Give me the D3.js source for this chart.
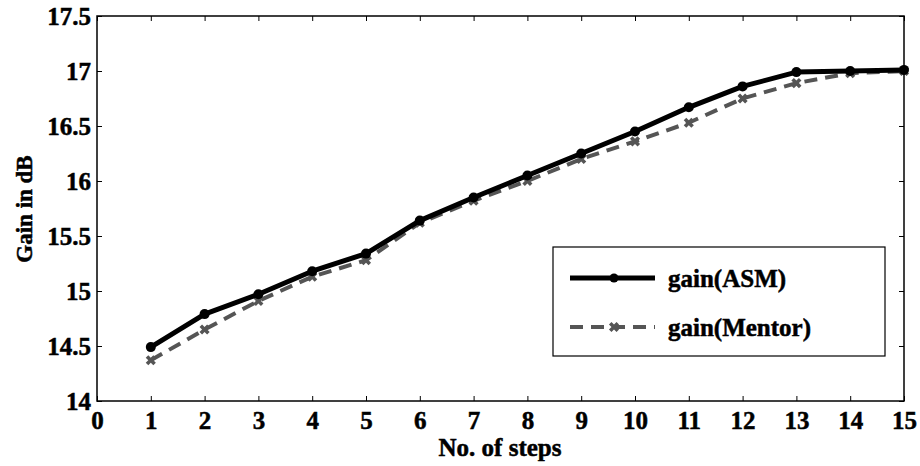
<!DOCTYPE html>
<html>
<head>
<meta charset="utf-8">
<script src="https://cdn.jsdelivr.net/npm/d3@7"></script>
<style>
  body { margin: 0; background: #fff; }
  text { font-family: "Liberation Serif", "Times New Roman", serif; font-weight: bold; stroke: black; stroke-width: 0.5px; }
</style>
</head>
<body>
<svg width="920" height="466"></svg>
<script>
var steps = [1, 2, 3, 4, 5, 6, 7, 8, 9, 10, 11, 12, 13, 14, 15];
var gainASM = [14.49, 14.79, 14.97, 15.18, 15.34, 15.64, 15.85, 16.05, 16.25, 16.45, 16.67, 16.86, 16.99, 17.0, 17.01];
var gainMentor = [14.37, 14.65, 14.91, 15.13, 15.28, 15.62, 15.82, 16.0, 16.2, 16.36, 16.53, 16.75, 16.89, 16.98, 17.0];
var xTicks = [0, 1, 2, 3, 4, 5, 6, 7, 8, 9, 10, 11, 12, 13, 14, 15];
var yTicks = [14, 14.5, 15, 15.5, 16, 16.5, 17, 17.5];
var seriesNames = ["gain(ASM)", "gain(Mentor)"];

var svg = d3.select("svg"),
    mLeft = 97, mTop = 16, mRight = 904, mBottom = 401;

var x = d3.scaleLinear().domain([0, 15]).range([mLeft, mRight]);
var y = d3.scaleLinear().domain([14, 17.5]).range([mBottom, mTop]);

// frame
svg.append("rect")
   .attr("x", mLeft).attr("y", mTop)
   .attr("width", mRight - mLeft).attr("height", mBottom - mTop)
   .style("fill", "none").style("stroke", "black").style("stroke-width", 1.5);

// axes with inward ticks on all four sides
var xb = svg.append("g").attr("transform", "translate(0," + mBottom + ")")
   .call(d3.axisBottom(x).tickValues(xTicks).tickSizeInner(-5).tickSizeOuter(0).tickPadding(10).tickFormat(d3.format("d")));
var xt = svg.append("g").attr("transform", "translate(0," + mTop + ")")
   .call(d3.axisTop(x).tickValues(xTicks).tickSizeInner(-5).tickSizeOuter(0).tickFormat(""));
var yl = svg.append("g").attr("transform", "translate(" + mLeft + ",0)")
   .call(d3.axisLeft(y).tickValues(yTicks).tickSizeInner(-5).tickSizeOuter(0).tickPadding(6).tickFormat(function(d){ return String(d); }));
var yr = svg.append("g").attr("transform", "translate(" + mRight + ",0)")
   .call(d3.axisRight(y).tickValues(yTicks).tickSizeInner(-5).tickSizeOuter(0).tickFormat(""));

[xb, xt, yl, yr].forEach(function(g) {
  g.select(".domain").remove();
  g.selectAll(".tick line").style("stroke", "black").style("stroke-width", 1);
  g.selectAll("text").style("font-size", "25px").style("fill", "black")
   .style("font-family", "Liberation Serif").style("font-weight", "bold");
});
xb.selectAll(".tick text").attr("dy", "0.72em");
yl.selectAll(".tick text").attr("dy", "0.33em");

// axis titles
svg.append("text")
   .attr("x", 500).attr("y", 456)
   .attr("text-anchor", "middle")
   .style("font-size", "25px")
   .text("No. of steps");

svg.append("text")
   .attr("transform", "translate(32,209) rotate(-90)")
   .attr("text-anchor", "middle")
   .style("font-size", "23px")
   .text("Gain in dB");

var line = d3.line()
   .x(function(d, i) { return x(steps[i]); })
   .y(function(d) { return y(d); });

// Mentor dashed gray
svg.append("path")
   .datum(gainMentor)
   .attr("d", line)
   .style("fill", "none")
   .style("stroke", "#555")
   .style("stroke-width", 4)
   .style("stroke-dasharray", "13,8");

var cross = d3.symbol().type(d3.symbolCross).size(64);
svg.selectAll(".mx")
   .data(gainMentor)
   .enter().append("path")
   .attr("class", "mx")
   .attr("d", cross)
   .attr("transform", function(d, i) { return "translate(" + x(steps[i]) + "," + y(d) + ") rotate(45)"; })
   .style("fill", "#555");

// ASM solid black
svg.append("path")
   .datum(gainASM)
   .attr("d", line)
   .style("fill", "none")
   .style("stroke", "black")
   .style("stroke-width", 5)
   .style("stroke-linejoin", "round");

svg.selectAll(".ma")
   .data(gainASM)
   .enter().append("circle")
   .attr("class", "ma")
   .attr("cx", function(d, i) { return x(steps[i]); })
   .attr("cy", function(d) { return y(d); })
   .attr("r", 5)
   .style("fill", "black");

// legend
var lg = svg.append("g");
lg.append("rect")
  .attr("x", 553).attr("y", 247).attr("width", 332).attr("height", 109)
  .style("fill", "white").style("stroke", "black").style("stroke-width", 1.2);

lg.append("line")
  .attr("x1", 570).attr("x2", 655).attr("y1", 278).attr("y2", 278)
  .style("stroke", "black").style("stroke-width", 5);
lg.append("circle").attr("cx", 614).attr("cy", 278).attr("r", 4.5).style("fill", "black");
lg.append("text").attr("x", 668).attr("y", 287).style("font-size", "25px").text(seriesNames[0]);

lg.append("line")
  .attr("x1", 570).attr("x2", 655).attr("y1", 327).attr("y2", 327)
  .style("stroke", "#555").style("stroke-width", 4).style("stroke-dasharray", "13,8");
lg.append("path").attr("d", cross)
  .attr("transform", "translate(614,327) rotate(45)").style("fill", "#555");
lg.append("text").attr("x", 668).attr("y", 336).style("font-size", "25px").text(seriesNames[1]);
</script>
</body>
</html>
